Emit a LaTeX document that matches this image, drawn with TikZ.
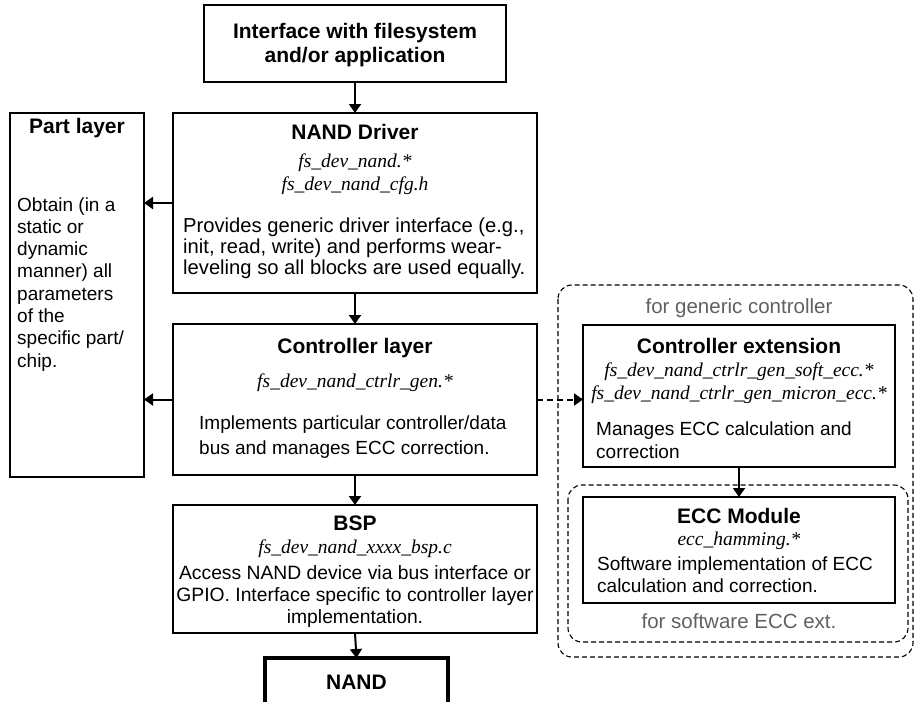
\documentclass[tikz,border=0pt]{standalone}
\usepackage{fontspec}
\setmainfont{Liberation Sans}
\newfontfamily\fileserif{Liberation Serif}
\usetikzlibrary{arrows.meta}
\begin{document}
\begin{tikzpicture}[x=1pt,y=-1pt,
  box/.style={draw, line width=2pt, inner sep=0pt, outer sep=0pt},
  ttl/.style={font=\bfseries\fontsize{21}{24}\selectfont, anchor=base, inner sep=0pt},
  fn/.style={font=\fileserif\itshape\fontsize{19.5}{22}\selectfont, anchor=base, inner sep=0pt},
  bd/.style={font=\fontsize{19}{22}\selectfont, anchor=base west, inner sep=0pt},
  bdl/.style={font=\fontsize{20.2}{22}\selectfont, anchor=base west, inner sep=0pt},
  bdc/.style={font=\fontsize{19.3}{22}\selectfont, anchor=base, inner sep=0pt},
  note/.style={font=\fontsize{20.5}{24}\selectfont, text=black!62, anchor=base, inner sep=0pt},
  arr/.style={line width=2pt, -{Triangle[length=9pt,width=12pt]}},
  grp/.style={draw, line width=1.1pt, rounded corners=14pt, dash pattern=on 5pt off 3pt}
]
\clip (0,0) rectangle (914,702);
\fill[white] (0,0) rectangle (914,702);

% boxes
\node[box, minimum width=302pt, minimum height=77pt] (top) at (355,43.5) {};
\node[box, minimum width=364pt, minimum height=180pt] (drv) at (355,203) {};
\node[box, minimum width=134pt, minimum height=364pt] (part) at (77,295) {};
\node[box, minimum width=364pt, minimum height=151pt] (ctl) at (355,399.5) {};
\node[box, minimum width=364pt, minimum height=128pt] (bsp) at (355,569) {};
\node[box, line width=3.8pt, minimum width=183pt, minimum height=80pt] (nand) at (356.5,698) {};
\node[box, minimum width=312pt, minimum height=142pt] (cext) at (739,396) {};
\node[box, minimum width=312pt, minimum height=106pt] (ecc) at (739,550) {};

% dashed groups
\draw[grp] (558,285) rectangle (913,657);
\draw[grp] (568,485) rectangle (908,642);

% connectors
\draw[arr] (top.south) -- (drv.north);
\draw[arr] (drv.south) -- (ctl.north);
\draw[arr] (ctl.south) -- (bsp.north);
\draw[arr] (bsp.south) -- (nand.north);
\draw[arr] (drv.west) -- (drv.west -| part.east);
\draw[arr] (ctl.west) -- (ctl.west -| part.east);
\draw[arr, dash pattern=on 6pt off 4pt] (ctl.east) -- (ctl.east -| cext.west);
\draw[arr] (cext.south) -- (ecc.north);

% top box
\node[ttl] (topa) at (355,38) {Interface with filesystem};
\node[ttl] (topb) at (355,62) {and/or application};

% NAND driver
\node[ttl] (drvt) at (355,139) {NAND Driver};
\node[fn] (drvf1) at (355,167) {fs\_dev\_nand.*};
\node[fn] (drvf2) at (355,190) {fs\_dev\_nand\_cfg.h};
\node[bdl] (drvb1) at (183,232) {Provides generic driver interface (e.g.,};
\node[bdl] (drvb2) at (183,253) {init, read, write) and performs wear-};
\node[bdl] (drvb3) at (183,274) {leveling so all blocks are used equally.};

% Part layer
\node[ttl] (partt) at (77,133) {Part layer};
\node[bd] (pb1) at (17,211) {Obtain (in a};
\node[bd] (pb2) at (17,233.3) {static or};
\node[bd] (pb3) at (17,255.6) {dynamic};
\node[bd] (pb4) at (17,277.9) {manner) all};
\node[bd] (pb5) at (17,300.2) {parameters};
\node[bd] (pb6) at (17,322.5) {of the};
\node[bd] (pb7) at (17,344.8) {specific part/};
\node[bd] (pb8) at (17,367.1) {chip.};

% Controller layer
\node[ttl] (ctlt) at (355,353) {Controller layer};
\node[fn] (ctlf) at (355,387) {fs\_dev\_nand\_ctrlr\_gen.*};
\node[bd] (ctlb1) at (199,429) {Implements particular controller/data};
\node[bd] (ctlb2) at (199,454) {bus and manages ECC correction.};

% BSP
\node[ttl] (bspt) at (355,530) {BSP};
\node[fn] (bspf) at (355,553) {fs\_dev\_nand\_xxxx\_bsp.c};
\node[bdc] (bspb1) at (355,579) {Access NAND device via bus interface or};
\node[bdc] (bspb2) at (355,601) {GPIO. Interface specific to controller layer};
\node[bdc] (bspb3) at (355,623) {implementation.};

% NAND
\node[ttl] (nandt) at (356.5,689) {NAND};

% Controller extension
\node[note] (gen) at (739,313) {for generic controller};
\node[ttl] (cextt) at (739,353) {Controller extension};
\node[fn] (cextf1) at (739,376) {fs\_dev\_nand\_ctrlr\_gen\_soft\_ecc.*};
\node[fn] (cextf2) at (739,399) {fs\_dev\_nand\_ctrlr\_gen\_micron\_ecc.*};
\node[bd] (cextb1) at (596,435) {Manages ECC calculation and};
\node[bd] (cextb2) at (596,458) {correction};

% ECC module
\node[ttl] (ecct) at (739,523) {ECC Module};
\node[fn] (eccf) at (739,545) {ecc\_hamming.*};
\node[bd] (eccb1) at (597,570) {Software implementation of ECC};
\node[bd] (eccb2) at (597,592) {calculation and correction.};
\node[note] (soft) at (739,628) {for software ECC ext.};
\end{tikzpicture}
\end{document}
